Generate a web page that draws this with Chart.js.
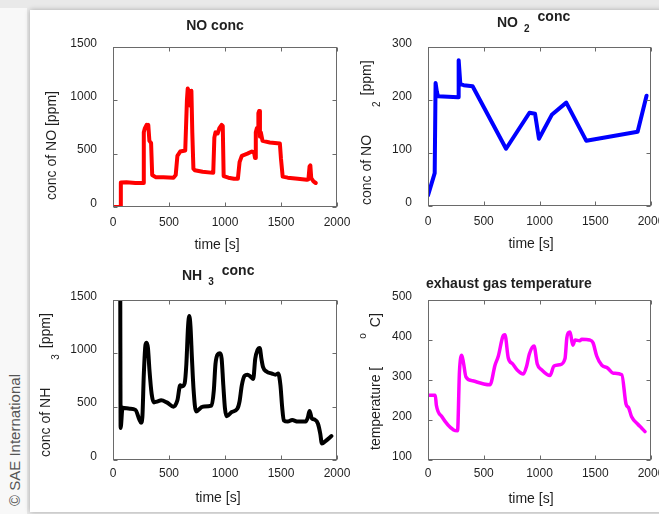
<!DOCTYPE html>
<html>
<head>
<meta charset="utf-8">
<script src="https://cdn.jsdelivr.net/npm/chart.js@4.4.1/dist/chart.umd.min.js"></script>
<style>
  html, body { margin: 0; padding: 0; }
  body { width: 659px; height: 514px; position: relative; overflow: hidden; background: #e9e9e9; }
  #strip { position: absolute; left: 0; top: 8px; width: 27px; height: 506px; background: #f8f8f8; }
  #sheet { position: absolute; left: 30px; top: 10px; width: 660px; height: 502px; background: #fff;
           box-shadow: 0 0 5px rgba(0,0,0,0.28); }
  canvas { position: absolute; }
  #sae { position: absolute; left: 14px; top: 440px; transform: translate(-50%, -50%) rotate(-90deg);
         white-space: nowrap; font: 15px "Liberation Sans", Arial, sans-serif; color: #555; }
</style>
</head>
<body>
<div id="strip"></div>
<div id="sheet"></div>
<div id="sae">© SAE International</div>
<canvas id="noChart" width="330" height="250" style="left:30px;top:10px"></canvas>
<canvas id="no2Chart" width="314" height="250" style="left:345px;top:10px"></canvas>
<canvas id="nh3Chart" width="330" height="250" style="left:30px;top:262px"></canvas>
<canvas id="tempChart" width="314" height="250" style="left:345px;top:262px"></canvas>
<script>
// time axis ticks shared by all four panels
const timeTicks = [0, 500, 1000, 1500, 2000];

// NO concentration [ppm]
const noTime = [0, 65, 70, 120, 200, 270, 275, 285, 300, 310, 315, 325, 340, 350, 380, 450, 540, 560, 575, 600, 645,
  660, 667, 680, 690, 700, 708, 718, 730, 800, 895, 905, 915, 935, 950, 970, 980, 988, 1030, 1080, 1115,
  1130, 1150, 1200, 1240, 1260, 1268, 1275, 1285, 1295, 1298, 1305, 1312, 1320, 1335, 1400, 1490, 1500, 1515,
  1560, 1650, 1730, 1745, 1755, 1762, 1770, 1790, 1810];
const noConc = [0, 0, 230, 232, 225, 225, 700, 740, 770, 740, 770, 620, 600, 300, 280, 278, 275, 300, 480, 520, 530,
  1000, 1110, 1080, 950, 1090, 700, 360, 345, 330, 320, 650, 700, 690, 740, 770, 760, 290, 275, 265, 265,
  420, 480, 500, 520, 510, 460, 700, 740, 730, 880, 900, 660, 700, 620, 605, 595, 450, 285,
  275, 265, 255, 260, 380, 390, 270, 240, 225];

// NO2 concentration [ppm]
const no2Time = [0, 60, 68, 80, 90, 270, 275, 290, 320, 400, 700, 910, 960, 995, 1110, 1240, 1420, 1880, 1960];
const no2Conc = [20, 62, 232, 215, 207, 205, 275, 230, 228, 226, 108, 176, 174, 127, 172, 195, 123, 140, 208];

// NH3 concentration [ppm]
const nh3Time = [65, 68, 85, 150, 200, 235, 250, 262, 275, 290, 300, 312, 325, 345, 365, 400, 430, 480, 540, 575,
  600, 615, 640, 655, 670, 681, 692, 705, 720, 741, 800, 880, 900, 915, 935, 955, 970, 985, 1000, 1015,
  1060, 1110, 1130, 1150, 1175, 1200, 1230, 1252, 1270, 1290, 1310, 1325, 1340, 1370, 1420, 1450, 1475,
  1495, 1510, 1525, 1560, 1600, 1650, 1720, 1740, 1755, 1775, 1800, 1830, 1850, 1865, 1900, 1950];
const nh3Conc = [1500, 300, 490, 480, 470, 380, 350, 400, 800, 1080, 1100, 1050, 850, 620, 540, 550, 560, 540, 500, 560,
  700, 690, 720, 900, 1250, 1350, 1250, 950, 650, 455, 500, 510, 650, 900, 990, 1000, 950, 700, 480, 410,
  450, 480, 550, 700, 790, 800, 780, 760, 950, 1030, 1050, 950, 870, 830, 810, 800, 810,
  700, 500, 370, 360, 375, 360, 360, 400, 460, 390, 380, 340, 250, 155, 180, 225];

// exhaust gas temperature [deg C]
const tempTime = [0, 65, 75, 125, 230, 265, 282, 303, 320, 340, 400, 500, 556, 601, 631, 670, 690, 720, 760, 800,
  855, 885, 909, 951, 980, 1020, 1094, 1130, 1180, 1229, 1245, 1258, 1274, 1298, 1320, 1360, 1380, 1450,
  1480, 1513, 1558, 1610, 1662, 1738, 1776, 1800, 1826, 1880, 1915, 1946];
const tempVal = [262, 262, 237, 208, 175, 173, 320, 362, 340, 308, 298, 290, 288, 337, 360, 408, 413, 355, 340, 325,
  315, 335, 365, 385, 340, 325, 311, 335, 338, 354, 405, 418, 420, 387, 400, 398, 402, 400,
  393, 360, 337, 330, 317, 313, 240, 230, 208, 190, 180, 171];

const noTicks = [0, 500, 1000, 1500];
const no2Ticks = [0, 100, 200, 300];
const nh3Ticks = [0, 500, 1000, 1500];
const tempTicks = [100, 200, 300, 400, 500];

const FAMILY = '"Liberation Sans", Arial, sans-serif';
const INK = '#1f1f1f';

function drawRich(ctx, item, ox, oy) {
  ctx.save();
  ctx.translate(item.x - ox, item.y - oy);
  if (item.rot) ctx.rotate(item.rot);
  ctx.textBaseline = 'alphabetic';
  ctx.textAlign = 'left';
  ctx.fillStyle = INK;
  const fontOf = p => (p.b ? 'bold ' : '') + (p.s || 14) + 'px ' + FAMILY;
  const widths = item.parts.map(p => {
    if (p.gap) return p.gap;
    ctx.font = fontOf(p);
    return ctx.measureText(p.t).width;
  });
  const total = widths.reduce((a, b) => a + b, 0);
  let cx = item.center ? -total / 2 : 0;
  item.parts.forEach((p, i) => {
    if (p.t) {
      ctx.font = fontOf(p);
      ctx.fillText(p.t, cx, p.dy || 0);
    }
    cx += widths[i];
  });
  ctx.restore();
}

// MATLAB style box with inward ticks, plus titles and labels
const framePlugin = {
  id: 'frame',
  afterDatasetsDraw(chart, args, opts) {
    const { ctx, chartArea: a, scales: { x, y } } = chart;
    const L = Math.round(a.left) + 0.5, R = Math.round(a.right) - 0.5;
    const T = Math.round(a.top) + 0.5, B = Math.round(a.bottom) - 0.5;
    ctx.save();
    ctx.strokeStyle = '#6a6a6a';
    ctx.lineWidth = 1;
    ctx.strokeRect(L, T, R - L, B - T);
    ctx.beginPath();
    x.ticks.forEach(t => {
      const px = Math.round(x.getPixelForValue(t.value)) + 0.5;
      ctx.moveTo(px, B); ctx.lineTo(px, B - 4);
      ctx.moveTo(px, T); ctx.lineTo(px, T + 4);
    });
    y.ticks.forEach(t => {
      const py = Math.round(y.getPixelForValue(t.value)) + 0.5;
      ctx.moveTo(L, py); ctx.lineTo(L + 4, py);
      ctx.moveTo(R, py); ctx.lineTo(R - 4, py);
    });
    ctx.stroke();
    ctx.restore();
    const ox = chart.canvas.offsetLeft, oy = chart.canvas.offsetTop;
    (opts.texts || []).forEach(item => drawRich(ctx, item, ox, oy));
  }
};

function makeChart(id, xs, ys, color, lineW, yTicks, smooth, box, texts) {
  const ctx = document.getElementById(id).getContext('2d');
  return new Chart(ctx, {
    type: 'line',
    data: {
      datasets: [{
        data: xs.map((t, i) => ({ x: t, y: ys[i] })),
        borderColor: color,
        borderWidth: lineW,
        pointRadius: 0,
        fill: false,
        tension: 0,
        cubicInterpolationMode: smooth ? 'monotone' : 'default',
        borderJoinStyle: 'round',
        borderCapStyle: 'round'
      }]
    },
    options: {
      responsive: false,
      animation: false,
      events: [],
      layout: { padding: { top: box.top, right: box.right, left: 0, bottom: 0 } },
      plugins: {
        legend: { display: false },
        tooltip: { enabled: false },
        frame: { texts: texts }
      },
      scales: {
        x: {
          type: 'linear',
          min: timeTicks[0],
          max: timeTicks[timeTicks.length - 1],
          afterBuildTicks: s => { s.ticks = timeTicks.map(v => ({ value: v })); },
          ticks: { padding: box.tickPad, color: INK, font: { family: FAMILY, size: 12 }, maxRotation: 0,
                   callback: v => String(v) },
          grid: { display: false, drawTicks: false },
          border: { display: false },
          afterFit: s => { s.height = box.xH; s.paddingLeft = 0; s.paddingRight = 0; }
        },
        y: {
          type: 'linear',
          min: yTicks[0],
          max: yTicks[yTicks.length - 1],
          afterBuildTicks: s => { s.ticks = yTicks.map(v => ({ value: v })); },
          ticks: { padding: 16, labelOffset: -3.5, color: INK, font: { family: FAMILY, size: 12 },
                   callback: v => String(v) },
          grid: { display: false, drawTicks: false },
          border: { display: false },
          afterFit: s => { s.width = 83; s.paddingTop = 0; s.paddingBottom = 0; }
        }
      }
    },
    plugins: [framePlugin]
  });
}

const UP = -Math.PI / 2;

makeChart('noChart', noTime, noConc, '#ff0000', 4, noTicks, false,
  { top: 37, right: 23, xH: 53, tickPad: 8 }, [
    { x: 215, y: 30, center: true, parts: [{ t: 'NO conc', b: 1 }] },
    { x: 217, y: 249, center: true, parts: [{ t: 'time [s]' }] },
    { x: 56, y: 200, rot: UP, parts: [{ t: 'conc of NO [ppm]' }] }
  ]);

makeChart('no2Chart', no2Time, no2Conc, '#0000ff', 4, no2Ticks, false,
  { top: 37, right: 8, xH: 54, tickPad: 8 }, [
    { x: 497, y: 27, parts: [{ t: 'NO', b: 1 }, { gap: 6 }, { t: '2', b: 1, s: 10, dy: 5 }, { gap: 8 }, { t: 'conc', b: 1, dy: -6.5 }] },
    { x: 531, y: 248, center: true, parts: [{ t: 'time [s]' }] },
    { x: 371, y: 205, rot: UP, parts: [{ t: 'conc of NO' }, { gap: 28 }, { t: '2', s: 10, dy: 9 }, { gap: 6 }, { t: '[ppm]' }] }
  ]);

makeChart('nh3Chart', nh3Time, nh3Conc, '#000000', 4, nh3Ticks, true,
  { top: 38, right: 23, xH: 52, tickPad: 6 }, [
    { x: 182, y: 280, parts: [{ t: 'NH', b: 1 }, { gap: 6 }, { t: '3', b: 1, s: 10, dy: 5 }, { gap: 8 }, { t: 'conc', b: 1, dy: -5 }] },
    { x: 218, y: 502, center: true, parts: [{ t: 'time [s]' }] },
    { x: 50, y: 457, rot: UP, parts: [{ t: 'conc of NH' }, { gap: 28 }, { t: '3', s: 10, dy: 9 }, { gap: 6 }, { t: '[ppm]' }] }
  ]);

makeChart('tempChart', tempTime, tempVal, '#ff00ff', 3.5, tempTicks, true,
  { top: 38, right: 8, xH: 52, tickPad: 6 }, [
    { x: 426, y: 288, parts: [{ t: 'exhaust gas temperature', b: 1 }] },
    { x: 531, y: 503, center: true, parts: [{ t: 'time [s]' }] },
    { x: 380, y: 450, rot: UP, parts: [{ t: 'temperature [' }, { gap: 28 }, { t: 'o', s: 10, dy: -14 }, { gap: 6 }, { t: 'C]' }] }
  ]);
</script>
</body>
</html>
